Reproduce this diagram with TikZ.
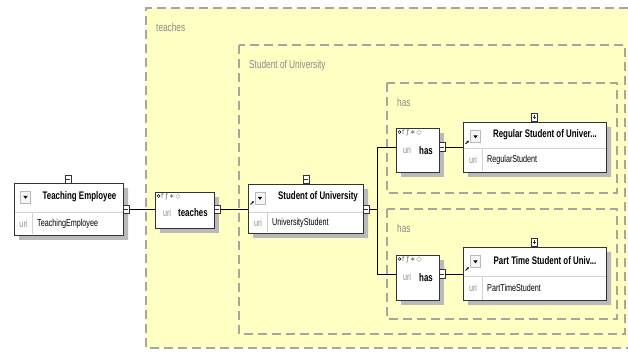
\documentclass[tikz,border=0pt]{standalone}
\usepackage{fontspec}
\setmainfont[FakeStretch=0.72]{Liberation Sans}
\newfontfamily\iconfont{DejaVu Sans}
\usetikzlibrary{shapes.misc,shadows,arrows.meta}

\definecolor{groupfill}{HTML}{FFFFC4}
\definecolor{groupline}{HTML}{A6A69C}
\definecolor{grouptext}{HTML}{8A8A8A}
\definecolor{boxline}{HTML}{333333}
\definecolor{shadowgray}{HTML}{BABABA}
\definecolor{rulegray}{HTML}{D2D2D2}
\definecolor{urigray}{HTML}{8E8E8E}

\newcommand\elTitleFont{\fontsize{11}{12}\selectfont\bfseries}
\newcommand\elBodyFont{\fontsize{10}{11}\selectfont}

\begin{document}
\begin{tikzpicture}[x=1pt,y=-1pt,
  group/.style={draw=groupline, line width=1.1pt, dash pattern=on 9pt off 5pt},
  grouplabel/.style={anchor=west, text=grouptext, font=\fontsize{11.5}{12}\selectfont, inner sep=0},
  shade5/.style={drop shadow={shadow xshift=5pt, shadow yshift=-5pt, fill=shadowgray, opacity=1}},
  elem/.style={chamfered rectangle, chamfered rectangle corners={north west,south west},
    chamfered rectangle xsep=3pt, chamfered rectangle ysep=3pt,
    draw=boxline, line width=0.9pt, fill=white, inner sep=0, shade5},
  seq/.style={rectangle, draw=boxline, line width=0.9pt, fill=white, inner sep=0, shade5},
  toggle/.style={rectangle, draw=boxline, line width=0.7pt, fill=white, inner sep=0,
    minimum width=6pt, minimum height=8.5pt},
  minusbox/.style={toggle, path picture={\draw[line width=0.6pt]
    ([xshift=-1.6pt]path picture bounding box.center) -- ([xshift=1.6pt]path picture bounding box.center);}},
  plusbox/.style={toggle, path picture={\draw[line width=0.6pt]
    ([xshift=-1.6pt]path picture bounding box.center) -- ([xshift=1.6pt]path picture bounding box.center)
    ([yshift=-2pt]path picture bounding box.center) -- ([yshift=2pt]path picture bounding box.center);}},
  menubtn/.style={rectangle, draw=gray!55, fill=gray!8, line width=0.5pt, inner sep=0,
    minimum width=10pt, minimum height=12pt,
    path picture={\fill[black] ([xshift=-2.2pt,yshift=1.2pt]path picture bounding box.center)
      -- ([xshift=2.2pt,yshift=1.2pt]path picture bounding box.center)
      -- ([yshift=-1.8pt]path picture bounding box.center) -- cycle;}},
  titletext/.style={font=\elTitleFont, inner sep=0},
  uritext/.style={font=\elBodyFont, text=urigray, inner sep=0},
  valtext/.style={font=\elBodyFont, anchor=west, inner sep=0},
  seqname/.style={font=\elTitleFont, anchor=west, inner sep=0},
  icons/.style={font=\iconfont\fontsize{6.5}{6.5}\selectfont, text=gray!80!black, anchor=west, inner sep=0},
  divider/.style={draw=rulegray, line width=0.8pt},
  conn/.style={draw=black, line width=0.9pt},
  refarrow/.style={draw=black, line width=0.8pt, -{Stealth[length=2.2pt,width=2.2pt]}}
]
\useasboundingbox (0,0) rectangle (628,352);

% ---- nested group frames ----
\fill[groupfill] (146,8) rectangle (628,348);
\draw[group] (628,8) -- (146,8) -- (146,348) -- (628,348);
\node[grouplabel] (lblteaches) at (156,27) {teaches};

\draw[group] (239,45) rectangle (625,334);
\node[grouplabel] (lblsou) at (249,66) {Student of University};

\draw[group] (387,83) rectangle (617,193);
\node[grouplabel] (lblhas1) at (397,102) {has};

\draw[group] (387,209) rectangle (617,319);
\node[grouplabel] (lblhas2) at (397,228) {has};

% ---- element: Teaching Employee ----
\node[elem, minimum width=109pt, minimum height=52pt] (te) at (68.5,209) {};
\node[minusbox] (tetop) at (68,179.5) {};
\node[minusbox] (teright) at (126,209.5) {};
\node[menubtn] (tebtn) at (25.5,197) {};
\node[titletext] (tetitle) at (79.5,197) {Teaching Employee};
\draw[divider] (14.5,212) -- (122.5,212);
\draw[divider] (32,212) -- (32,234.5);
\node[uritext] (teuri) at (23.5,223.5) {uri};
\node[valtext] (teval) at (37,223.5) {TeachingEmployee};

% ---- sequence: teaches ----
\node[seq, minimum width=59pt, minimum height=36pt] (tseq) at (184.5,210) {};
\node[minusbox] (tseqmin) at (217,209.5) {};
\draw[line width=0.5pt] (158.5,196) circle (1.4pt);
\node[icons] (tseqicons) at (161,197) {f\,\,ƒ\,∗\,◇};
\node[uritext] (tsequri) at (167,213) {uri};
\node[seqname] (tseqname) at (178,213) {teaches};

% ---- element: Student of University ----
\node[elem, minimum width=115pt, minimum height=49pt] (sou) at (305.5,208.5) {};
\node[minusbox] (soutop) at (306,179.5) {};
\node[minusbox] (souright) at (366,209.5) {};
\node[menubtn] (soubtn) at (260,198) {};
\node[titletext] (soutitle) at (318,197) {Student of University};
\draw[divider] (248.5,212) -- (362.5,212);
\draw[divider] (267,212) -- (267,232.5);
\node[uritext] (souuri) at (258,223) {uri};
\node[valtext] (souval) at (272,223) {UniversityStudent};
\draw[refarrow] (250.5,204.5) -- (253.8,201.2);

% ---- sequence: has (regular) ----
\node[seq, minimum width=43pt, minimum height=44pt] (has1) at (417.5,150) {};
\node[minusbox] (has1min) at (442,147) {};
\draw[line width=0.5pt] (399.5,132) circle (1.4pt);
\node[icons] (has1icons) at (402,133) {f\,\,ƒ\,∗\,◇};
\node[uritext] (has1uri) at (407,150) {uri};
\node[seqname] (has1name) at (419,150.5) {has};

% ---- element: Regular Student of University ----
\node[elem, minimum width=143pt, minimum height=50pt] (rs) at (534.5,147) {};
\node[plusbox] (rstop) at (534.5,117.5) {};
\node[menubtn] (rsbtn) at (475.5,136.5) {};
\node[titletext] (rstitle) at (545,134.5) {Regular Student of Univer...};
\draw[divider] (463.5,148) -- (605.5,148);
\draw[divider] (482,148) -- (482,171.5);
\node[uritext] (rsuri) at (473,160) {uri};
\node[valtext] (rsval) at (487,160) {RegularStudent};
\draw[refarrow] (465.5,144) -- (468.8,140.7);

% ---- sequence: has (part time) ----
\node[seq, minimum width=43pt, minimum height=45pt] (has2) at (417.5,277.5) {};
\node[minusbox] (has2min) at (442,274) {};
\draw[line width=0.5pt] (399.5,259) circle (1.4pt);
\node[icons] (has2icons) at (402,260) {f\,\,ƒ\,∗\,◇};
\node[uritext] (has2uri) at (407,277) {uri};
\node[seqname] (has2name) at (419,277.5) {has};

% ---- element: Part Time Student of University ----
\node[elem, minimum width=143pt, minimum height=53pt] (pt) at (534.5,273.5) {};
\node[plusbox] (pttop) at (534.5,242.5) {};
\node[menubtn] (ptbtn) at (475.5,261.5) {};
\node[titletext] (pttitle) at (545,260.5) {Part Time Student of Univ...};
\draw[divider] (463.5,276) -- (605.5,276);
\draw[divider] (482,276) -- (482,299.5);
\node[uritext] (pturi) at (473,288) {uri};
\node[valtext] (ptval) at (487,288) {PartTimeStudent};
\draw[refarrow] (465.5,270.5) -- (468.8,267.2);

% ---- connectors ----
\coordinate (fork) at (377,209.5);
\draw[conn] (teright.east) -- (teright.east -| tseq.west);
\draw[conn] (tseqmin.east) -- (tseqmin.east -| sou.west);
\draw[conn] (souright.east) -- (fork);
\draw[conn] (fork |- has1min) -- (fork |- has2min);
\draw[conn] (fork |- has1min) -- (has1min -| has1.west);
\draw[conn] (fork |- has2min) -- (has2min -| has2.west);
\draw[conn] (has1min.east) -- (has1min.east -| rs.west);
\draw[conn] (has2min.east) -- (has2min.east -| pt.west);
\end{tikzpicture}
\end{document}
